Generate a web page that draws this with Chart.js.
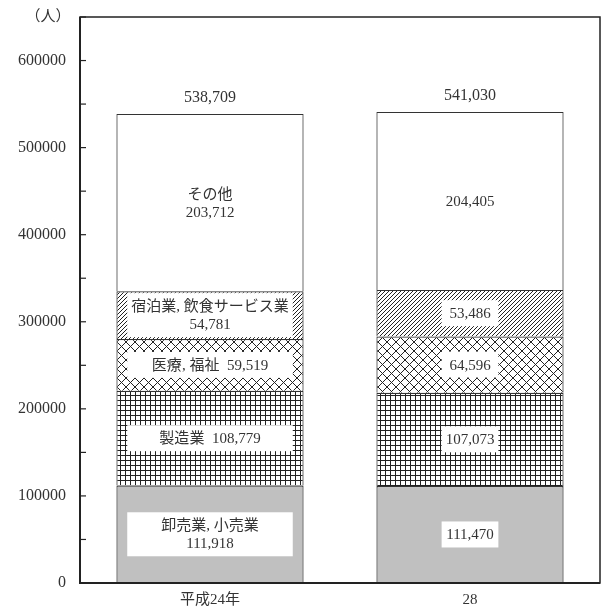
<!DOCTYPE html>
<html lang="ja">
<head>
    <meta charset="UTF-8">
    <title>産業別従業者数</title>
    <script src="https://cdn.jsdelivr.net/npm/chart.js"></script>
    <style>
        body {
            margin: 0;
            background: #fff;
        }
        .chart-box {
            width: 608px;
            height: 610px;
        }
    </style>
</head>
<body>

    <div class="chart-box">
        <canvas id="workerChart"></canvas>
    </div>

    <script>
        // data
        const categories = ['平成24年', '28'];
        const industries = ['卸売業, 小売業', '製造業', '医療, 福祉', '宿泊業, 飲食サービス業', 'その他'];
        const wholesale = [111918, 111470];
        const manufacturing = [108779, 107073];
        const medical = [59519, 64596];
        const hospitality = [54781, 53486];
        const others = [203712, 204405];
        const totals = [538709, 541030];
        const yTicksLabelled = [0, 100000, 200000, 300000, 400000, 500000, 600000];
        // how each segment label is written: 'stack' = name over value, 'inline' = name + value, 'value' = value only
        const labelKinds = [
            ['stack', 'inline', 'inline', 'stack', 'stack'],
            ['value', 'value', 'value', 'value', 'value']
        ];

        const FONT = "'Liberation Serif', 'Noto Sans CJK JP', serif";
        const INK = '#222';

        function makePattern(kind) {
            const c = document.createElement('canvas');
            const size = kind === 'grid' ? 5 : (kind === 'diamond' ? 9 : 4);
            c.width = size;
            c.height = size;
            const g = c.getContext('2d');
            g.fillStyle = '#fff';
            g.fillRect(0, 0, size, size);
            g.strokeStyle = '#222';
            g.fillStyle = '#222';
            g.lineWidth = 1;
            if (kind === 'grid') {
                g.fillRect(0, 0, size, 1);
                g.fillRect(0, 0, 1, size);
            } else if (kind === 'diamond') {
                g.beginPath();
                g.moveTo(0, 0); g.lineTo(size, size);
                g.moveTo(0, size); g.lineTo(size, 0);
                g.stroke();
            } else {
                g.beginPath();
                g.moveTo(-1, 1); g.lineTo(1, -1);
                g.moveTo(0, size); g.lineTo(size, 0);
                g.moveTo(size - 1, size + 1); g.lineTo(size + 1, size - 1);
                g.stroke();
            }
            return g.createPattern(c, 'repeat');
        }

        const fills = ['#c0c0c0', makePattern('grid'), makePattern('diamond'), makePattern('hatch'), '#ffffff'];
        const series = [wholesale, manufacturing, medical, hospitality, others];

        function fmt(v) {
            return v.toLocaleString('en-US');
        }

        function labelLines(barIdx, segIdx) {
            const kind = labelKinds[barIdx][segIdx];
            const v = fmt(series[segIdx][barIdx]);
            if (kind === 'stack') return [industries[segIdx], v];
            if (kind === 'inline') return [industries[segIdx] + '  ' + v];
            return [v];
        }

        // frame, inward tick marks, unit label
        const framePlugin = {
            id: 'frame',
            afterDraw(chart) {
                const { ctx, chartArea: a, scales } = chart;
                ctx.save();
                ctx.strokeStyle = INK;
                ctx.lineWidth = 1.5;
                ctx.strokeRect(a.left, a.top, a.right - a.left, a.bottom - a.top);
                ctx.lineWidth = 2;
                ctx.beginPath();
                ctx.moveTo(a.left, a.top);
                ctx.lineTo(a.left, a.bottom);
                ctx.lineTo(a.right, a.bottom);
                ctx.stroke();
                ctx.lineWidth = 1.2;
                scales.y.ticks.forEach(t => {
                    const y = scales.y.getPixelForValue(t.value);
                    ctx.beginPath();
                    ctx.moveTo(a.left, y);
                    ctx.lineTo(a.left + 6, y);
                    ctx.stroke();
                });
                ctx.fillStyle = '#333';
                ctx.font = '15px ' + FONT;
                ctx.textAlign = 'center';
                ctx.textBaseline = 'middle';
                ctx.fillText('（人）', 48, 17);
                ctx.restore();
            }
        };

        // segment labels with white boxes, and totals on top
        const labelPlugin = {
            id: 'segLabels',
            afterDatasetsDraw(chart) {
                const ctx = chart.ctx;
                ctx.save();
                ctx.textAlign = 'center';
                ctx.textBaseline = 'middle';
                const lineH = 18;
                categories.forEach((cat, j) => {
                    ctx.font = '15px ' + FONT;
                    let maxW = 0;
                    series.forEach((s, i) => {
                        labelLines(j, i).forEach(l => { maxW = Math.max(maxW, ctx.measureText(l).width); });
                    });
                    const boxW = maxW + 8;
                    series.forEach((s, i) => {
                        const el = chart.getDatasetMeta(i).data[j];
                        const mid = (el.y + el.base) / 2;
                        const lines = labelLines(j, i);
                        const boxH = lines.length * lineH + 8;
                        ctx.fillStyle = '#fff';
                        ctx.fillRect(el.x - boxW / 2, mid - boxH / 2, boxW, boxH);
                        ctx.fillStyle = '#333';
                        lines.forEach((l, k) => {
                            ctx.fillText(l, el.x, mid + (k - (lines.length - 1) / 2) * lineH + 1);
                        });
                    });
                    const topEl = chart.getDatasetMeta(series.length - 1).data[j];
                    const yTop = chart.scales.y.getPixelForValue(totals[j]);
                    ctx.font = '16px ' + FONT;
                    ctx.fillStyle = '#333';
                    ctx.fillText(fmt(totals[j]), topEl.x, yTop - 16);
                });
                ctx.restore();
            }
        };

        window.onload = function() {
            const ctx = document.getElementById('workerChart').getContext('2d');
            new Chart(ctx, {
                type: 'bar',
                data: {
                    labels: categories,
                    datasets: series.map((s, i) => ({
                        label: industries[i],
                        data: s,
                        backgroundColor: fills[i],
                        borderColor: '#333',
                        borderWidth: 1.2,
                        barPercentage: 0.72,
                        categoryPercentage: 1
                    }))
                },
                options: {
                    responsive: true,
                    maintainAspectRatio: false,
                    animation: false,
                    layout: { padding: { top: 17, right: 8, left: 0, bottom: 0 } },
                    plugins: {
                        legend: { display: false },
                        tooltip: { enabled: false }
                    },
                    scales: {
                        x: {
                            stacked: true,
                            grid: { display: false },
                            border: { display: false },
                            ticks: { color: '#333', padding: 0, font: { family: FONT, size: 15 } },
                            afterFit(scale) { scale.height = 27; }
                        },
                        y: {
                            stacked: true,
                            min: 0,
                            max: 650000,
                            grid: { display: false, drawTicks: false },
                            border: { display: false },
                            ticks: {
                                stepSize: 50000,
                                padding: 14,
                                color: '#333',
                                font: { family: FONT, size: 16 },
                                callback: v => yTicksLabelled.includes(v) ? String(v) : ''
                            },
                            afterFit(scale) {
                                scale.width = 80;
                                scale.paddingTop = 0;
                                scale.paddingBottom = 0;
                            }
                        }
                    }
                },
                plugins: [labelPlugin, framePlugin]
            });
        };
    </script>

</body>
</html>
